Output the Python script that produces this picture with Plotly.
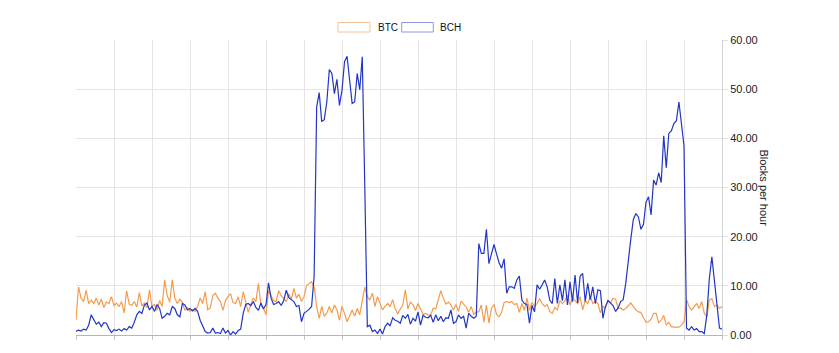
import plotly.graph_objects as go

series_names = ["BTC", "BCH"]
series_colors = ["#f39c4e", "#2236c4"]
legend_box_colors = ["#f2c29a", "#8f98e0"]
y_ticks = [0, 10, 20, 30, 40, 50, 60]
y_title = "Blocks per hour"

btc = [
    3.0, 9.8, 7.5, 6.8, 9.1, 6.4, 7.1, 6.4, 7.5, 6.1, 7.3, 5.6, 6.7, 6.4, 7.8,
    6.0, 6.5, 5.8, 6.8, 4.5, 9.0, 6.3, 6.0, 6.8, 5.7, 8.6, 5.9, 6.5, 5.5, 9.2,
    5.8, 6.2, 5.0, 7.0, 5.8, 11.2, 8.0, 6.7, 11.2, 7.5, 6.4, 7.3, 6.6, 5.0, 5.6,
    4.8, 5.2, 4.8, 5.8, 7.5, 6.4, 8.8, 5.1, 5.5, 8.0, 8.5, 7.5, 6.8, 5.0, 7.0,
    7.8, 8.4, 6.6, 6.4, 7.8, 5.8, 8.8, 6.6, 4.6, 6.2, 7.5, 6.8, 10.5, 6.0, 5.5,
    4.1, 9.0, 8.0, 7.0, 6.8, 9.0, 8.0, 7.5, 6.8, 8.4, 7.2, 9.5, 7.5, 8.3, 6.8,
    7.8, 10.0, 10.5, 10.8, 9.8, 5.8, 3.4, 5.8, 3.8, 4.5, 5.8, 4.5, 6.1, 5.1, 3.0,
    5.8, 4.4, 2.7, 3.8, 5.1, 3.8, 5.4, 4.1, 7.0, 9.8, 7.8, 7.1, 8.5, 5.8, 7.8,
    6.4, 5.1, 5.8, 6.4, 5.8, 7.2, 5.4, 4.3, 5.3, 6.1, 9.2, 5.3, 6.7, 6.2, 5.0,
    6.4, 5.3, 4.2, 4.4, 4.1, 4.0, 5.5, 5.3, 7.2, 9.0, 7.5, 6.3, 6.7, 6.1, 5.1,
    6.2, 4.8, 6.9, 6.3, 5.7, 4.6, 5.8, 4.2, 4.7, 4.7, 6.1, 2.6, 6.1, 2.4, 5.4,
    6.2, 4.2, 3.7, 4.6, 6.6, 6.8, 6.6, 6.8, 6.2, 6.4, 4.6, 6.4, 5.0, 7.5, 5.0,
    6.6, 5.8, 6.4, 7.4, 6.4, 5.8, 6.2, 4.8, 4.4, 5.6, 5.1, 7.0, 6.4, 7.0, 8.1,
    6.1, 7.5, 7.0, 6.4, 7.8, 5.1, 7.0, 6.4, 7.8, 6.4, 6.8, 6.4, 4.5, 5.8, 5.5,
    7.0, 6.5, 7.5, 7.3, 5.4, 5.5, 5.1, 5.4, 6.0, 6.5, 5.8, 5.1, 4.7, 4.6, 3.5,
    2.6, 2.7, 3.2, 4.4, 4.4, 2.5, 3.0, 4.0, 2.0, 2.6, 1.7, 1.6, 1.6, 1.6, 2.0,
    2.7, 7.2, 5.8, 5.1, 5.8, 6.4, 5.4, 6.8, 4.4, 3.7, 7.1, 7.4, 5.8, 6.1, 5.4,
    5.8,
]

bch = [
    0.7, 1.0, 0.8, 1.2, 1.0, 2.0, 4.1, 3.0, 2.2, 2.6, 1.7, 2.5, 2.4, 1.3, 0.5,
    1.1, 0.9, 1.2, 0.8, 1.3, 1.0, 1.7, 1.4, 2.6, 4.1, 4.8, 4.4, 6.1, 6.5, 5.1,
    5.8, 4.8, 6.2, 5.4, 3.4, 3.8, 4.4, 4.1, 5.8, 5.4, 4.1, 3.7, 6.4, 6.1, 5.1,
    5.4, 4.9, 5.4, 4.8, 3.0, 2.0, 0.7, 0.4, 0.5, 1.4, 0.4, 0.5, 0.3, 1.4, 0.4,
    0.9, 0.0, 0.7, 0.2, 0.9, 1.2, 4.4, 6.2, 6.4, 6.0, 6.8, 5.6, 5.0, 6.5, 5.3,
    6.2, 10.6, 7.5, 6.2, 6.4, 6.8, 6.0, 7.0, 9.1, 7.6, 7.1, 6.8, 5.8, 6.0, 2.7,
    4.4, 4.8, 5.2, 5.8, 12.0, 46.4, 49.3, 43.4, 43.8, 47.4, 54.0, 53.2, 49.1, 52.0, 46.7,
    49.8, 55.6, 56.7, 52.5, 47.1, 47.4, 53.2, 49.9, 56.6, 30.0, 1.7, 2.0, 0.7, 1.0, 0.3,
    1.2, 0.2, 1.7, 2.4, 1.9, 3.5, 3.0, 2.8, 2.4, 4.0, 3.4, 4.2, 2.2, 3.4, 2.8,
    4.7, 2.0, 4.0, 3.6, 3.5, 4.0, 2.6, 4.1, 2.9, 3.8, 2.7, 3.5, 3.4, 5.1, 2.4,
    2.7, 4.1, 3.4, 3.8, 1.4, 4.4, 3.8, 3.4, 3.8, 18.6, 16.6, 16.6, 21.5, 14.5, 16.5,
    18.4, 16.5, 14.7, 13.6, 15.5, 8.5, 9.8, 9.8, 9.5, 11.2, 12.0, 7.1, 6.4, 6.2, 2.4,
    6.0, 4.7, 10.2, 9.3, 10.2, 11.2, 9.8, 7.1, 6.4, 11.5, 6.4, 10.2, 7.0, 11.2, 6.1,
    10.8, 6.8, 12.2, 6.5, 12.0, 12.5, 6.8, 10.5, 7.2, 9.8, 6.4, 9.2, 9.0, 3.4, 5.8,
    7.0, 6.4, 6.0, 4.8, 5.5, 6.8, 7.2, 10.5, 15.5, 19.5, 23.5, 24.7, 24.0, 21.5, 22.5,
    27.0, 28.1, 24.4, 31.5, 30.5, 33.0, 31.0, 40.5, 34.0, 41.0, 41.5, 43.0, 43.6, 47.4, 43.5,
    38.5, 1.4, 1.0, 1.7, 1.0, 1.3, 0.7, 0.7, 0.3, 4.0, 11.5, 15.9, 11.0, 7.1, 1.4,
    1.2,
]

x_idx = list(range(len(btc)))

fig = go.Figure()
for name, vals, col in zip(series_names, [btc, bch], series_colors):
    fig.add_trace(go.Scatter(x=x_idx, y=vals, mode="lines", name=name,
                             line=dict(color=col, width=1.2), showlegend=False,
                             hoverinfo="skip"))

font_main = "Liberation Sans, Arial, sans-serif"

# legend: outlined boxes + labels placed above the plot (paper coordinates)
legend_box_x = [(0.4056, 0.4551), (0.5042, 0.5531)]
legend_text_x = [0.4644, 0.5604]
shapes = []
annotations = []
for name, col, (bx0, bx1), tx in zip(series_names, legend_box_colors, legend_box_x, legend_text_x):
    shapes.append(dict(type="rect", xref="paper", yref="paper", x0=bx0, x1=bx1,
                       y0=1.0271, y1=1.0593, line=dict(color=col, width=1),
                       fillcolor="rgba(0,0,0,0)", layer="above"))
    annotations.append(dict(text=name, xref="paper", yref="paper", x=tx, y=1.0432,
                            xanchor="left", yanchor="middle", showarrow=False,
                            font=dict(size=10, color="#111111", family=font_main)))
annotations.append(dict(text=y_title, textangle=90, xref="paper", yref="paper",
                        x=1.0775, y=0.5, showarrow=False,
                        font=dict(size=11, color="#222222", family=font_main)))

fig.update_layout(
    width=839, height=353,
    margin=dict(l=76, r=117, t=40, b=18, pad=0),
    paper_bgcolor="white", plot_bgcolor="white",
    font=dict(family=font_main, size=11, color="#222222"),
    showlegend=False,
    xaxis=dict(range=[0, len(btc) - 1], tick0=0, dtick=15, showgrid=True,
               gridcolor="#e8e4e6", gridwidth=1, showline=True, linecolor="#b8b4b8",
               ticks="outside", ticklen=4, tickcolor="#c8c4c8",
               showticklabels=False, zeroline=False),
    yaxis=dict(side="right", range=[0, 60], tickvals=y_ticks, tickformat=".2f",
               showgrid=True, gridcolor="#e8e4e6", gridwidth=1, showline=True,
               linecolor="#cfd3d6", ticks="outside", ticklen=5, tickcolor="#e0e0e0",
               zeroline=False, tickfont=dict(size=11, color="#222222")),
    shapes=shapes,
    annotations=annotations,
)

fig.write_html("out.html")
